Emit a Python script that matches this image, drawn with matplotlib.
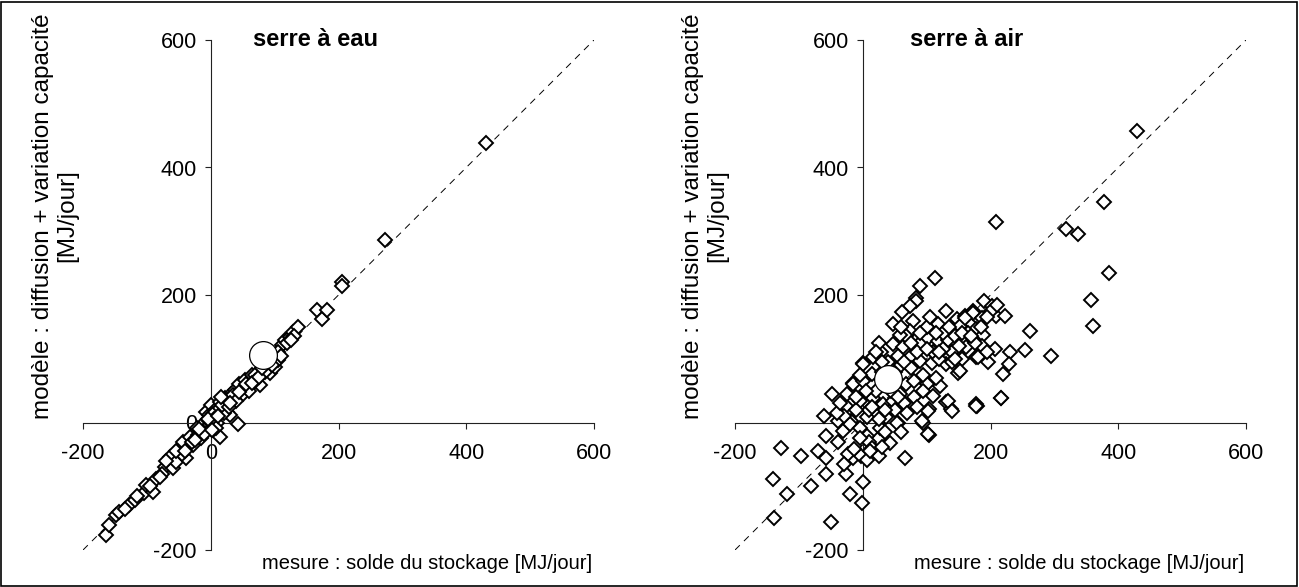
import matplotlib
matplotlib.use("Agg")
import matplotlib.pyplot as plt
from matplotlib.patches import Rectangle

plt.rcParams['font.family'] = ['Liberation Sans', 'DejaVu Sans']

# ---------------- data ----------------
eau_mesure = [-164, -160, -149, -144, -128, -119, -104, -101, -90, -85, -72, -67, -64, -59, -54,
              -49, -43, -38, -33, -28, -22, -15, -9, -7, -2, 1, 6, 14, 14, 22, 25, 32, 38, 43,
              45, 53, 64, 69, 77, 93, 100, 106, 111, 116, 124, 129, 137, 166, 174, 182, 205, 206,
              273, 431, 4, 14, 25, 35, 30, -4, -12, -20, 5, 10, -30, -45, -55, -76, -95, -135,
              -115, 50, 58, 70, 85, 90, 120, 130, 0, 8, 20, -2, -10, 40, 60, 96, 18, 28,
              -80, -70, -40, -25, -18, -5, 2, 12, 16, 30, 45, 55, 65, 75, 80, 105, 110, 125]
eau_modele = [-177, -161, -145, -140, -130, -122, -111, -98, -109, -88, -70, -62, -54, -72, -62,
              -41, -30, -56, -22, -36, -9, -25, 1, 17, 11, 27, 19, -22, 32, 38, 17, 45, 51, -2,
              61, 66, 74, 74, 59, 77, 87, 98, 121, 129, 134, 142, 150, 176, 163, 176, 221, 214,
              287, 438, 14, 22, 35, 43, 11, -5, -15, -20, 5, 0, -30, -50, -45, -80, -100, -135,
              -115, 45, 55, 65, 80, 95, 125, 135, -10, -8, 15, 3, -18, 34, 50, 90, 28, 25,
              -85, -60, -45, -28, -10, 5, -12, 10, 40, 30, 48, 60, 62, 72, 85, 110, 105, 130]
eau_moyenne = (82, 106)

air_mesure = [-128, -141, -139, -119, -97, -81, -70, -57, -57, -50, -48, -60, -57, -39, -26, -20,
              0, -1, -16, -3, 7, 25, 66, 42, 55, 94, 104, 104, 130, 138, 179, 217, -16, 0,
              -23, -13, 24, 6, -18, -31, -39,
              -26, -5, 16, 32, 47, 58, 37, 21, 6, 53, -20, -5, 27,
              -15, 0, 14, 0, 16, 29, 47, 63, 74, 89, 108, 131, 149, 68, 81, 100, 121, 110, 134,
              139, 102, 92, 102, 178,
              113, 90, 84, 84, 74, 62, 47, 79, 74, 68, 59, 131, 118, 147, 160, 173, 168, 152, 89,
              102, 118, 134, 144, 162, 178,
              209, 318, 337, 378, 386, 357, 360, 190, 202, 209, 223, 173, 160, 186, 178, 189, 157,
              162, 186, 207, 262, 254, 231, 229, 219, 294, 196, 181, 155, 216, 178, 152, 429,
              10, 20, 35, 50, 60, 75, 85, 95, 110, 120, 125, 140, 150, 115, 95, 80, 65, 45, 30,
              -10, -30, 10, 15, -5, 35, 50, 70, 85, 40, 55, 25, 60, 100, 125, 140, 165, 175, 195,
              200, 210,
              -40, -35, -25, -10, 5, 15, 25, 35, 45, 55, 65, 75, 90, 100, 105, 115, 120, 135, 145,
              155, 170, 185, 195, 20, 30, -5, 12, -30, 30, 60]
air_modele = [-40, -88, -150, -112, -53, -100, -45, -56, -81, -156, 44, 10, -21, -31, -81, -112,
              -94, -126, -56, -53, -59, -53, -56, -32, 0, 0, -20, 21, 32, 21, 26, 38, 62, 94,
              -50, -42, -26, -21, 3, -13, 3,
              26, 34, 39, 29, 34, 44, 8, 13, 8, 0, -3, -8, -8,
              60, 65, 76, 91, 102, 110, 123, 118, 102, 97, 94, 91, 78, 60, 65, 60, 57, 42, 34,
              18, 18, 3, -18, 29,
              226, 214, 196, 190, 183, 174, 154, 159, 144, 136, 138, 175, 154, 162, 167, 175, 154,
              151, 125, 133, 128, 130, 136, 120, 102,
              314, 304, 295, 346, 235, 192, 152, 191, 183, 167, 167, 172, 164, 164, 146, 138, 128,
              118, 120, 116, 143, 113, 111, 91, 76, 104, 95, 102, 99, 38, 26, 81, 458,
              20, 50, 60, 80, 90, 85, 110, 75, 110, 100, 140, 110, 120, 70, 50, 40, 30, 50, 80,
              20, 10, -30, -40, -25, -15, 20, 15, 25, 95, 105, 125, 150, 150, 115, 95, 140, 125,
              110, 175, 185,
              15, 30, 45, 40, 50, 25, 5, 20, 70, 40, 95, 125, 140, 115, 165, 140, 110, 150, 100,
              140, 135, 150, 165, 110, 95, 75, -45, -65, -38, -15]
air_moyenne = (40, 68)

ticks = [-200, 0, 200, 400, 600]
panels = [
    ("serre à eau", eau_mesure, eau_modele, eau_moyenne),
    ("serre à air", air_mesure, air_modele, air_moyenne),
]
ylabel = "modèle : diffusion + variation capacité\n[MJ/jour]"
xlabel = "mesure : solde du stockage [MJ/jour]"

# ---------------- figure ----------------
W, H = 1299, 587
fig = plt.figure(figsize=(W / 100, H / 100), dpi=100)
fig.patches.append(Rectangle((1 / W, 1 / H), 1 - 3 / W, 1 - 3 / H, transform=fig.transFigure,
                             fill=False, edgecolor='black', linewidth=1.2))

ax_lefts = [83 / W, 735 / W]
ax_w = 511 / W
ax_b = 37 / H
ax_h = 510 / H
ylabel_x = [55, 705]

for i, (title, xs, ys, moy) in enumerate(panels):
    ax = fig.add_axes([ax_lefts[i], ax_b, ax_w, ax_h])
    ax.set_xlim(-200, 600)
    ax.set_ylim(-200, 600)
    for s in ('top', 'right'):
        ax.spines[s].set_visible(False)
    ax.spines['left'].set_position(('data', 0))
    ax.spines['bottom'].set_position(('data', 0))
    for s in ('left', 'bottom'):
        ax.spines[s].set_linewidth(0.8)
        ax.spines[s].set_color('#222222')
    ax.set_xticks(ticks)
    ax.set_yticks(ticks)
    ax.set_xticklabels([str(t) for t in ticks])
    ax.set_yticklabels([str(t) for t in ticks])
    ax.tick_params(axis='x', direction='out', length=4, width=0.8, pad=11, labelsize=15.5,
                   color='#222222')
    ax.tick_params(axis='y', direction='out', length=4, width=0.8, pad=6, labelsize=15.5,
                   color='#222222')
    ax.patch.set_visible(False)

    ax.plot([-200, 600], [-200, 600], color='black', linewidth=0.7,
            linestyle=(0, (7, 6)), zorder=2)
    ax.plot(xs, ys, linestyle='none', marker='D', markersize=7,
            markerfacecolor='white', markeredgecolor='black', markeredgewidth=1.4,
            zorder=3, clip_on=False)
    ax.plot([moy[0]], [moy[1]], linestyle='none', marker='o', markersize=20,
            markerfacecolor='white', markeredgecolor='black', markeredgewidth=0.9, zorder=4)

    ax.text(66 if i == 0 else 74, 600, title, fontsize=17, fontweight='bold',
            ha='left', va='center')
    ax.text(597, -221, xlabel, fontsize=14.5, ha='right', va='center', clip_on=False)

    fig.text(ylabel_x[i] / W, 1 - 216 / H, ylabel, rotation=90, fontsize=17.5,
             ha='center', va='center', multialignment='center', linespacing=1.12)

fig.savefig("out.png", dpi=100)
